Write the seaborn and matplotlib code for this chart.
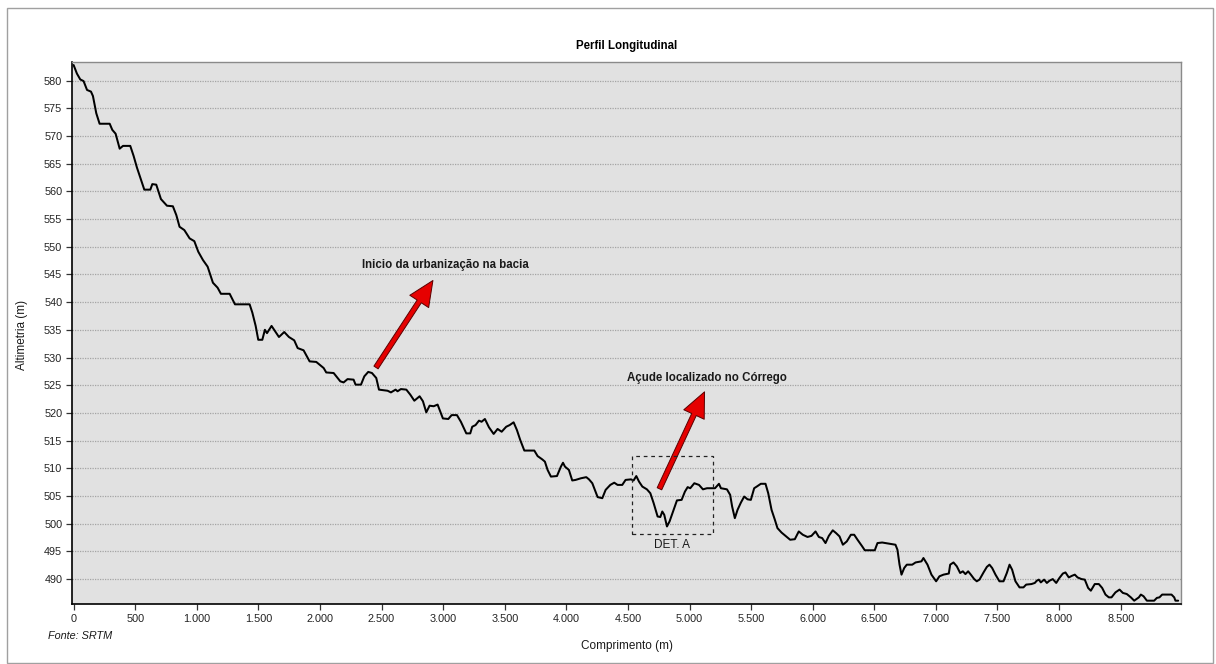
import matplotlib
matplotlib.use("Agg")
import matplotlib.pyplot as plt
import matplotlib.patches as mpatches
from matplotlib.ticker import FuncFormatter
import seaborn as sns
import pandas as pd

# ---------------- data ----------------
distance_m = [
    0, 27, 54, 81, 109, 141, 157, 184, 211, 293, 314, 341, 374, 401, 460, 487,
    514, 541, 574, 623, 639, 671, 709, 758, 806, 834, 860, 899, 942, 980, 1012,
    1050, 1088, 1131, 1169, 1196, 1267, 1310, 1429, 1451, 1478, 1499, 1532,
    1553, 1570, 1607, 1667, 1710, 1748,
    1791, 1819, 1867, 1916, 1970, 2030, 2051, 2111, 2165, 2192, 2224, 2273,
    2289, 2333, 2360, 2392, 2422, 2457, 2479, 2549, 2576, 2614, 2630, 2657,
    2701, 2733, 2766, 2809, 2836, 2863, 2890, 2923, 2955, 2998, 3042, 3069,
    3112, 3144, 3188, 3220, 3236, 3263, 3291, 3312, 3339, 3372, 3410, 3442,
    3475, 3512, 3540,
    3572, 3599, 3626, 3659, 3740, 3767, 3805, 3826, 3848, 3875, 3924, 3945,
    3956, 3973, 3989, 4021, 4048, 4075, 4119, 4162, 4184, 4211, 4232, 4254,
    4292, 4319, 4357, 4389, 4416, 4454, 4481, 4525, 4546, 4568, 4590, 4617,
    4654, 4682, 4709, 4741, 4763, 4779, 4795, 4817, 4838, 4871, 4898, 4936,
    4963, 4985, 5006, 5039, 5077, 5109, 5142, 5207, 5223, 5239, 5255, 5304,
    5330, 5346, 5368, 5390, 5417, 5444, 5471, 5498, 5525, 5546, 5579, 5617,
    5639, 5666, 5693, 5714, 5747, 5779, 5817, 5855, 5887, 5920, 5958, 5990,
    6023, 6050, 6077, 6104, 6131, 6163, 6190, 6218, 6245, 6277, 6310, 6337,
    6364, 6402, 6423, 6504, 6526, 6564, 6672, 6688, 6705, 6721, 6743, 6764,
    6808, 6835, 6883, 6899, 6932, 6964, 7002, 7029, 7062, 7105,
    7116, 7143, 7170, 7197, 7219, 7240, 7262, 7284, 7311, 7332, 7354, 7387,
    7414, 7435, 7457, 7484, 7516, 7549, 7576, 7598, 7619, 7646, 7679, 7711,
    7733, 7776, 7803, 7819, 7836, 7852, 7879, 7901, 7922, 7949, 7977, 8003,
    8031, 8052, 8079, 8106, 8128, 8150, 8182, 8209, 8236, 8258, 8290, 8323,
    8350, 8377, 8404, 8426, 8458, 8491, 8518, 8550, 8583, 8610, 8648, 8664,
    8686, 8713, 8772, 8794, 8815, 8837, 8913, 8935, 8945, 8967,
]
altitude_m = [
    582.8, 581.25, 580.2, 579.9, 578.3, 578.0, 577.2, 574.1, 572.2, 572.2,
    571.1, 570.4, 567.7, 568.2, 568.2, 566.4, 564.3, 562.5, 560.3, 560.3,
    561.3, 561.2, 558.6, 557.4, 557.3, 555.7, 553.6, 553.0, 551.5, 551.0,
    549.1, 547.6, 546.4, 543.5, 542.6, 541.5, 541.5, 539.6, 539.6, 538.1,
    535.7, 533.2, 533.2, 535.0, 534.4, 535.7, 533.7, 534.6, 533.7,
    533.1, 531.7, 531.3, 529.3, 529.2, 528.1, 527.3, 527.2, 525.7, 525.5,
    526.1, 526.0, 525.1, 525.1, 526.6, 527.4, 527.2, 526.3, 524.2, 524.0,
    523.7, 524.2, 523.9, 524.3, 524.2, 523.3, 522.2, 523.0, 522.1, 520.1,
    521.3, 521.2, 521.5, 519.0, 518.9, 519.6, 519.6, 518.4, 516.3, 516.3,
    517.5, 517.8, 518.6, 518.4, 518.9, 517.4, 516.2, 517.1, 516.6, 517.5,
    517.8,
    518.3, 516.9, 515.1, 513.2, 513.2, 512.2, 511.6, 511.2, 509.7, 508.5,
    508.6, 509.7, 510.3, 511.0, 510.3, 509.7, 507.8, 507.9, 508.2, 508.4,
    508.0, 507.3, 506.1, 504.8, 504.6, 506.1, 507.0, 507.4, 507.0, 507.0,
    507.9, 508.0, 507.8, 508.6, 507.6, 506.7, 506.2, 505.5, 503.7, 501.3,
    501.2, 502.2, 501.6, 499.5, 500.4, 502.5, 504.2, 504.3, 505.8, 506.6,
    506.4, 507.3, 507.0, 506.2, 506.4, 506.4, 506.8, 507.2, 506.4, 506.2,
    505.2, 503.1, 501.0, 502.5, 503.8, 504.9, 504.4, 504.3, 506.4, 506.7,
    507.2, 507.2, 505.5, 502.5, 500.7, 499.2, 498.4, 497.8, 497.1, 497.2,
    498.6, 498.0, 497.6, 497.8, 498.6, 497.6, 497.4, 496.5, 497.8, 498.8,
    498.3, 497.7, 496.2, 496.8, 498.0, 498.0, 497.1, 495.9, 495.2, 495.2,
    496.5, 496.6, 496.2, 495.3, 492.6, 490.8, 492.0, 492.6, 492.6, 493.0,
    493.2, 493.8, 492.6, 490.8, 489.6, 490.5, 490.8, 491.0,
    492.6, 493.0, 492.3, 491.1, 491.4, 490.9, 491.4, 490.8, 490.0, 489.6,
    489.9, 491.2, 492.2, 492.6, 492.0, 490.8, 489.6, 489.6, 491.1, 492.6,
    491.7, 489.6, 488.5, 488.5, 489.0, 489.1, 489.3, 489.7, 489.9, 489.4,
    489.9, 489.3, 489.7, 490.0, 489.3, 490.2, 491.0, 491.2, 490.3, 490.6,
    490.8, 490.3, 490.0, 489.9, 488.4, 487.9, 489.1, 489.1, 488.4, 487.2,
    486.7, 486.7, 487.6, 488.1, 487.5, 487.3, 486.7, 486.1, 486.7, 487.2,
    486.9, 486.1, 486.1, 486.6, 486.7, 487.2, 487.2, 486.7, 486.1, 486.1,
]

x_ticks = list(range(0, 9000, 500))
y_ticks = list(range(490, 585, 5))

title = "Perfil Longitudinal"
x_label = "Comprimento (m)"
y_label = "Altimetria (m)"
source_note = "Fonte: SRTM"
note_urban = "Inicio da urbanização na bacia"
note_dam = "Açude localizado no Córrego"
detail_label = "DET. A"

# annotation anchor values (data units)
urban_tail = (2455, 528.2)
urban_tip = (2917, 543.9)
urban_text = (3017, 546.7)
dam_tail = (4756, 506.3)
dam_tip = (5122, 523.8)
dam_text = (5141, 526.3)
det_box_x = (4537, 5187)
det_box_y = (498.1, 512.3)
det_text = (4857, 496.1)

# ---------------- plot ----------------
sns.set_theme(style="white")
plt.rcParams["font.family"] = ["Liberation Sans", "DejaVu Sans"]

fig = plt.figure(figsize=(12.16, 6.64), dpi=100)
ax = fig.add_axes([72 / 1216, 1 - 604 / 664, (1181 - 72) / 1216, (604 - 61.7) / 664])
ax.set_facecolor("#E1E1E1")

df = pd.DataFrame({"dist": distance_m, "alt": altitude_m})
sns.lineplot(data=df, x="dist", y="alt", ax=ax, color="black", linewidth=1.45,
             estimator=None, sort=False, zorder=3)

ax.set_xlim(-13, 8990)
ax.set_ylim(485.5, 583.4)
ax.set_xticks(x_ticks)
ax.set_yticks(y_ticks)
ax.xaxis.set_major_formatter(FuncFormatter(lambda v, p: f"{v:,.0f}".replace(",", ".")))
ax.tick_params(axis="both", which="major", direction="out", length=4, width=0.9,
               color="#333333", labelsize=7.8, labelcolor="#222222", pad=3,
               bottom=True, left=True)
ax.grid(axis="y", color="#A5A5A5", linestyle=(0, (1, 1)), linewidth=0.9)
ax.grid(axis="x", visible=False)
ax.set_xlabel("")
ax.set_ylabel("")

for side in ("left", "bottom"):
    ax.spines[side].set_color("black")
    ax.spines[side].set_linewidth(1.2)
for side in ("top", "right"):
    ax.spines[side].set_color("#8A8A8A")
    ax.spines[side].set_linewidth(1.0)

# annotations
arrow_kw = dict(arrowstyle="simple,head_length=1.0,head_width=0.9,tail_width=0.2",
                mutation_scale=18, fc="#E60000", ec="#5A0000", lw=0.7,
                shrinkA=0, shrinkB=0)
ax.annotate("", xy=urban_tip, xytext=urban_tail, arrowprops=arrow_kw, zorder=4)
ax.annotate("", xy=dam_tip, xytext=dam_tail, arrowprops=arrow_kw, zorder=4)
ax.text(*urban_text, note_urban, ha="center", va="center", fontsize=8.3,
        fontweight="bold", color="#1A1A1A")
ax.text(*dam_text, note_dam, ha="center", va="center", fontsize=8.3,
        fontweight="bold", color="#1A1A1A")
rect = mpatches.Rectangle((det_box_x[0], det_box_y[0]), det_box_x[1] - det_box_x[0],
                          det_box_y[1] - det_box_y[0], fill=False, ec="#222222",
                          lw=0.9, linestyle=(0, (3, 3)), zorder=4)
ax.add_patch(rect)
ax.text(*det_text, detail_label, ha="center", va="center", fontsize=8.5, color="#1A1A1A")

# figure texts
fig.text(627 / 1216, 1 - 46 / 664, title, ha="center", va="center",
         fontsize=8.3, fontweight="bold", color="black")
fig.text(627 / 1216, 1 - 646 / 664, x_label, ha="center", va="center",
         fontsize=8.5, color="#1A1A1A")
fig.text(22 / 1216, 1 - 335 / 664, y_label, ha="center", va="center",
         rotation=90, fontsize=8.5, color="#1A1A1A")
fig.text(48 / 1216, 1 - 636 / 664, source_note, ha="left", va="center",
         fontsize=7.8, style="italic", color="#1A1A1A")

# outer frame
frame = mpatches.Rectangle((7 / 1216, 1 / 664), (1213 - 7) / 1216, (663 - 8) / 664,
                           transform=fig.transFigure, fill=False, ec="#A0A0A0", lw=1.0)
fig.patches.append(frame)

fig.savefig("out.png", dpi=100)
